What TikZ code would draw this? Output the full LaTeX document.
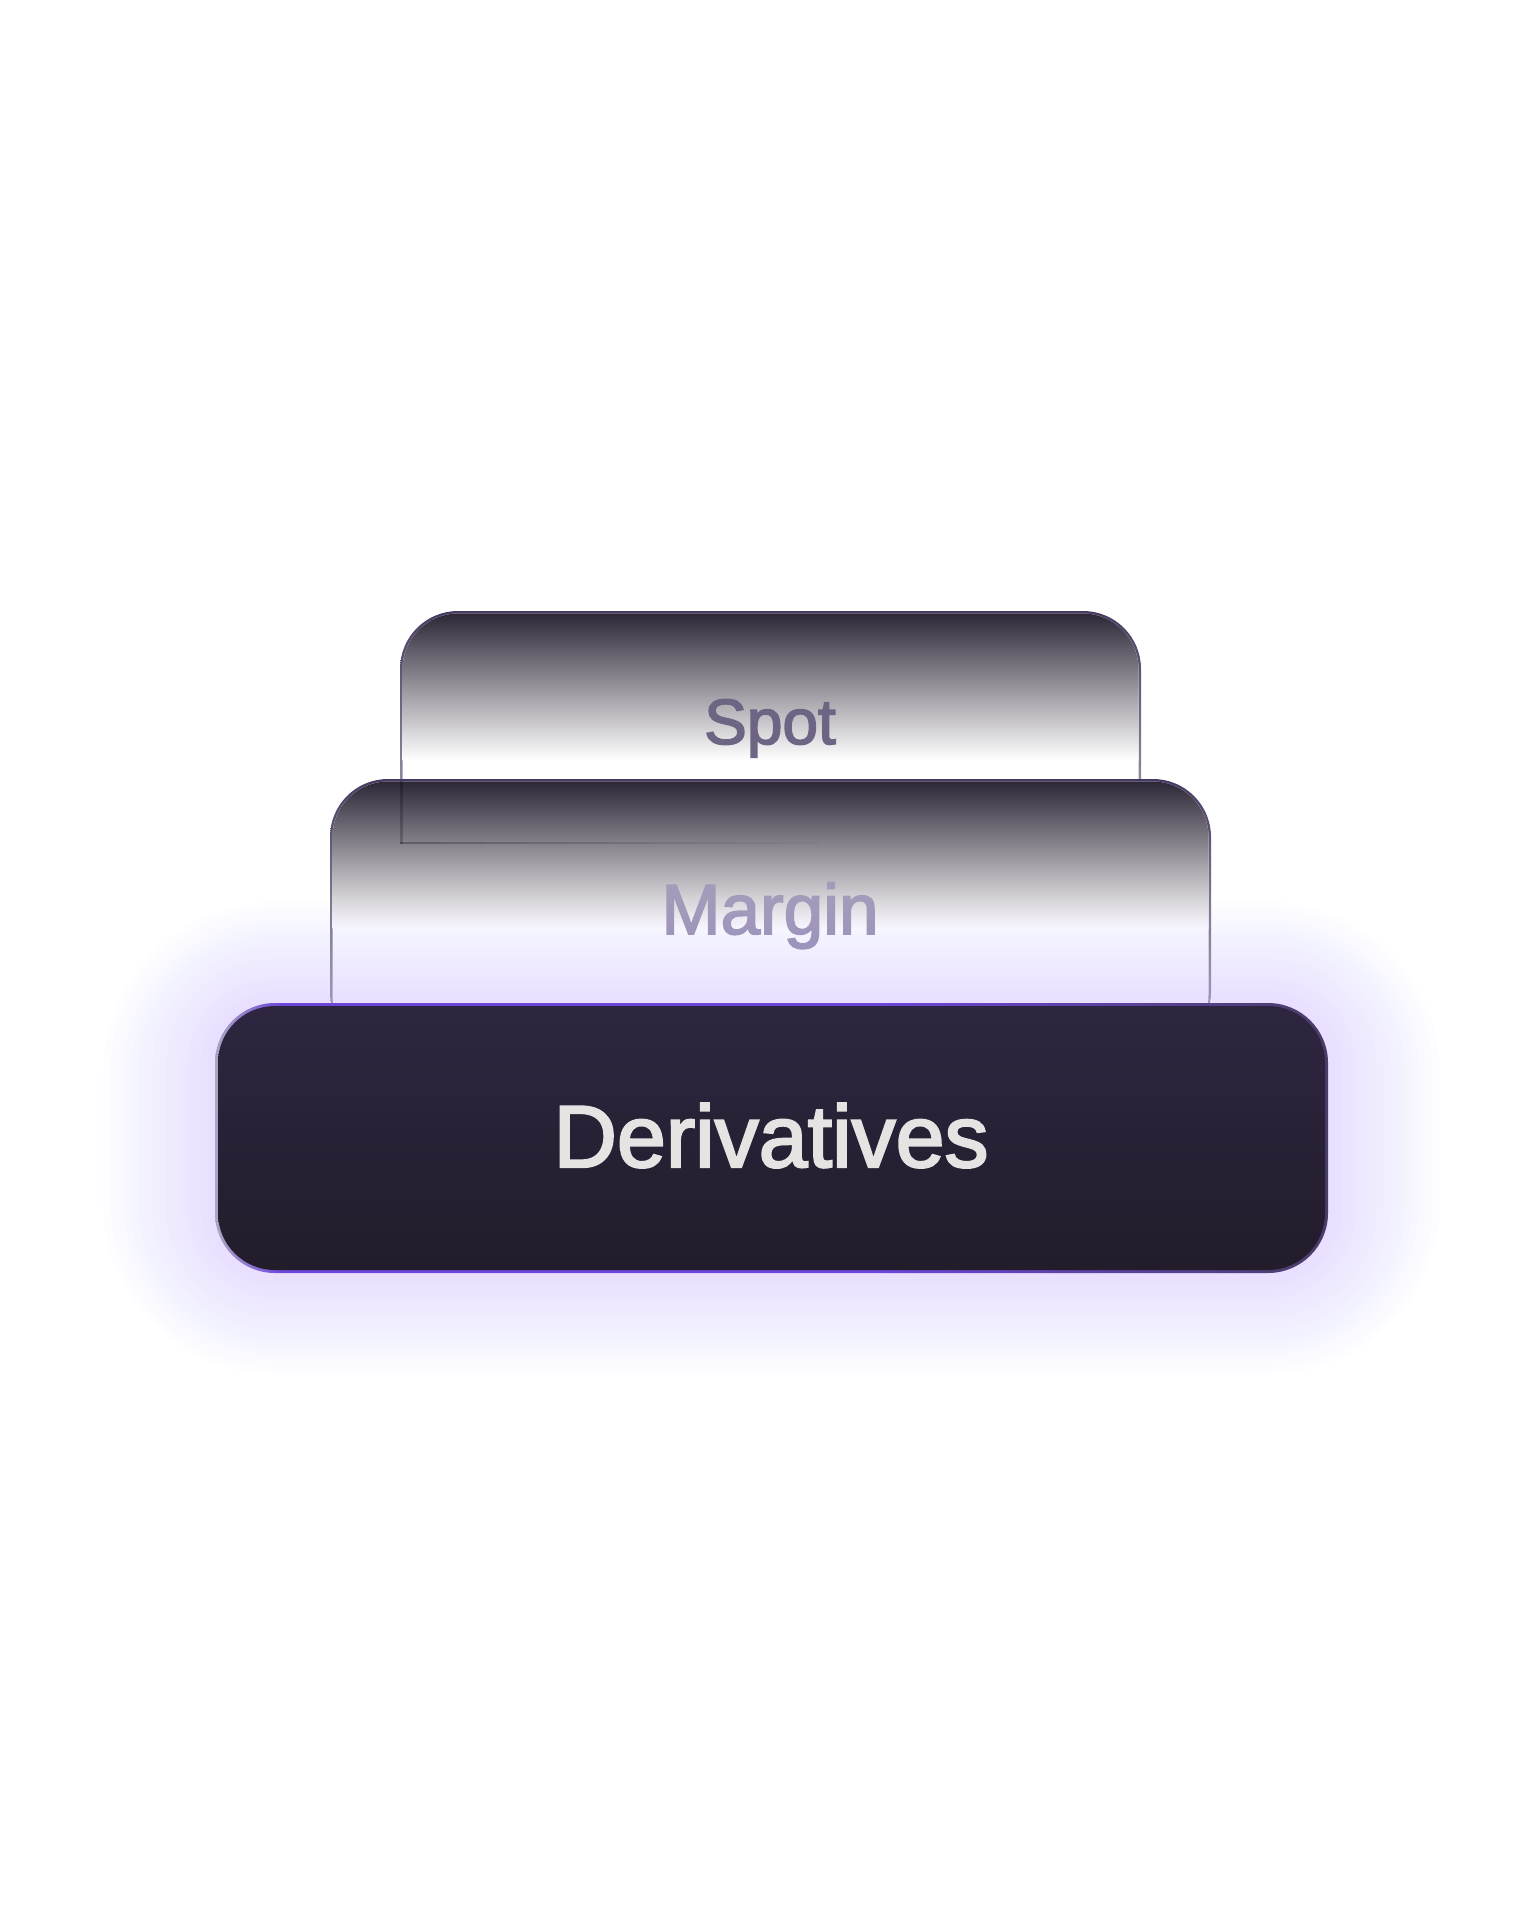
\documentclass[tikz,border=0pt]{standalone}
\usepackage{fontspec}
\setmainfont{Liberation Sans}[BoldFont=Liberation Sans, BoldFeatures={FakeBold=2.5}]
\definecolor{inkdark}{HTML}{2A2333}
\definecolor{inkmid}{HTML}{85818B}
\definecolor{edgetop}{HTML}{463A63}
\definecolor{edgebot}{HTML}{C4C0CA}
\definecolor{glowc}{HTML}{7458FF}
\definecolor{dl}{HTML}{ADA5C4}
\definecolor{dm}{HTML}{6C46D8}
\definecolor{dr}{HTML}{4A3D68}
\definecolor{dtop}{HTML}{2E2640}
\definecolor{dbot}{HTML}{221C2B}
\definecolor{spottext}{HTML}{6E6484}
\definecolor{margintext}{HTML}{A49BBB}
\definecolor{derivtext}{HTML}{E6E4E2}
\pgfdeclarehorizontalshading{dborder}{100bp}{color(0bp)=(dl); color(25bp)=(dl); color(28bp)=(dm); color(55bp)=(dm); color(75bp)=(dr); color(100bp)=(dr)}
\tikzset{
  label/.style={anchor=base, inner sep=0pt},
}
\begin{document}
\begin{tikzpicture}[x=1pt,y=-1pt]
\useasboundingbox (0,0) rectangle (1536,1918);
\fill[white] (0,0) rectangle (1536,1918);

% ---- Spot card ----
\begin{scope}
  \clip (0,0) rectangle (1536,844);
  \shade[top color=edgetop, bottom color=edgebot, rounded corners=58pt] (400,611) rectangle (1141,900);
  \begin{scope}
    \clip[rounded corners=55.5pt] (402.5,613.5) rectangle (1138.5,900);
    \fill[white] (400,611) rectangle (1141,900);
    \shade[top color=inkdark, middle color=inkmid, bottom color=white] (400,611) rectangle (1141,760);
  \end{scope}
\end{scope}
\node[label, text=spottext, font=\bfseries\fontsize{64}{64}\selectfont] (spot) at (770,744) {Spot};

% ---- Margin card ----
\shade[top color=edgetop, bottom color=edgebot, rounded corners=58pt] (330,779) rectangle (1211,1050);
\begin{scope}
  \clip[rounded corners=55.5pt] (332.5,781.5) rectangle (1208.5,1050);
  \fill[white] (330,779) rectangle (1211,1050);
  \shade[top color=inkdark, middle color=inkmid, bottom color=white] (330,779) rectangle (1211,928);
\end{scope}
% spot card outline seen through the margin card
\fill[black, opacity=0.22] (400,781) rectangle (402.5,844);
\foreach \k in {0,...,9}{
  \pgfmathsetmacro\op{0.26*(1-\k/10)}
  \fill[black, opacity=\op] (400+\k*42,841.5) rectangle (442+\k*42,844);
}
\node[label, text=margintext, font=\bfseries\fontsize{71}{71}\selectfont] (margin) at (770,934) {Margin};

% ---- glow ----
\foreach \i in {1,...,16}{
  \pgfmathsetmacro\rr{60+\i*7}
  \fill[glowc, fill opacity=0.0075, rounded corners=\rr pt]
    (215-\i*7,1003-\i*6.3) rectangle (1328+\i*7,1273+\i*6.3);
}

% ---- Derivatives card ----
\shade[shading=dborder, rounded corners=60pt] (215,1003) rectangle (1328,1273);
\shade[top color=dtop, bottom color=dbot, rounded corners=57pt] (218,1006) rectangle (1325,1270);
\node[label, text=derivtext, font=\bfseries\fontsize{88}{88}\selectfont] (deriv) at (771,1167) {Derivatives};
\end{tikzpicture}
\end{document}
